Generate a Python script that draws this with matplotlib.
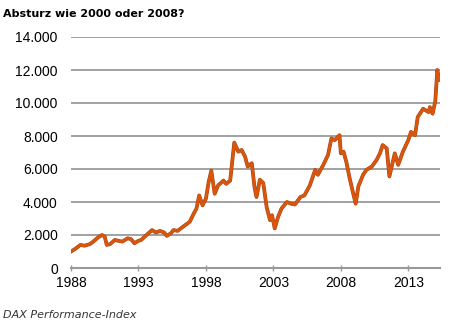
import matplotlib
matplotlib.use("Agg")
import matplotlib.pyplot as plt
import matplotlib.patheffects as pe
from matplotlib.ticker import FuncFormatter

# DAX Performance-Index (decimal year, index points)
years = [1988.0, 1988.3, 1988.7, 1989.0, 1989.4, 1989.65, 1990.0, 1990.3, 1990.5, 1990.65,
         1990.9, 1991.25, 1991.5, 1991.8, 1992.2, 1992.45, 1992.7, 1993.0, 1993.2, 1993.6,
         1994.0, 1994.3, 1994.6, 1994.9, 1995.1, 1995.4, 1995.6, 1995.9, 1996.3, 1996.8,
         1997.1, 1997.3, 1997.5, 1997.75, 1998.0, 1998.2, 1998.4, 1998.65, 1998.9, 1999.3,
         1999.5, 1999.8, 2000.1, 2000.4, 2000.65, 2000.9, 2001.1, 2001.4, 2001.6, 2001.75,
         2002.0, 2002.25, 2002.5, 2002.75, 2002.9, 2003.1, 2003.35, 2003.6, 2004.0, 2004.3,
         2004.6, 2005.0, 2005.3, 2005.7, 2006.1, 2006.3, 2006.7, 2007.05, 2007.3, 2007.55,
         2007.9, 2008.0, 2008.2, 2008.4, 2008.65, 2008.85, 2009.1, 2009.3, 2009.65, 2009.9,
         2010.3, 2010.65, 2010.9, 2011.1, 2011.4, 2011.6, 2012.0, 2012.25, 2012.6, 2013.0,
         2013.2, 2013.5, 2013.7, 2014.1, 2014.5, 2014.6, 2014.8, 2015.0, 2015.15, 2015.3]
dax = [1000, 1150, 1400, 1350, 1450, 1600, 1850, 2000, 1900, 1400,
       1450, 1700, 1650, 1600, 1800, 1750, 1500, 1650, 1700, 2000,
       2300, 2150, 2250, 2150, 1950, 2100, 2300, 2250, 2500, 2800,
       3300, 3600, 4400, 3800, 4200, 5200, 5900, 4500, 5000, 5300,
       5100, 5300, 7600, 7050, 7150, 6750, 6150, 6350, 4900, 4300,
       5350, 5150, 3700, 2900, 3200, 2400, 3100, 3600, 4000, 3900,
       3850, 4300, 4400, 5000, 5950, 5650, 6250, 6850, 7850, 7750,
       8050, 6950, 7050, 6450, 5450, 4750, 3900, 4950, 5650, 5950,
       6150, 6550, 6950, 7450, 7250, 5550, 6950, 6250, 7050, 7750,
       8250, 8050, 9150, 9650, 9450, 9750, 9350, 10100, 12000, 11400]

xticks = [1988, 1993, 1998, 2003, 2008, 2013]
yticks = [0, 2000, 4000, 6000, 8000, 10000, 12000, 14000]

grid_grey = "#9a9a9a"

fig = plt.figure(figsize=(4.71, 3.29), dpi=100)
ax = fig.add_axes([71 / 471, 1 - 268 / 329, (440 - 71) / 471, (268 - 37) / 329])

ax.plot(years, dax, color="#d9560f", lw=2.0, solid_joinstyle="round",
        path_effects=[pe.Stroke(linewidth=2.7, foreground="#a8420c"), pe.Normal()])

ax.set_xlim(1988, 2015.35)
ax.set_ylim(0, 14000)
ax.set_xticks(xticks)
ax.set_yticks(yticks)
ax.yaxis.set_major_formatter(FuncFormatter(lambda v, p: f"{v:,.0f}".replace(",", ".")))

ax.grid(axis="y", color=grid_grey, lw=1.3)
ax.set_axisbelow(True)
for s in ["top", "right", "left"]:
    ax.spines[s].set_visible(False)
ax.spines["bottom"].set_color(grid_grey)
ax.spines["bottom"].set_linewidth(1.5)

ax.tick_params(axis="y", length=0, pad=9.5, labelsize=10)
ax.tick_params(axis="x", direction="inout", length=5, width=1, color=grid_grey,
               pad=3, labelsize=10)
for lab in ax.get_xticklabels() + ax.get_yticklabels():
    lab.set_fontfamily("Liberation Sans")

fig.text(3 / 471, 1 - 14 / 329, "Absturz wie 2000 oder 2008?", fontsize=8,
         fontweight="bold", family="DejaVu Sans", va="center", ha="left")
fig.text(3 / 471, 1 - 315 / 329, "DAX Performance-Index", fontsize=8,
         style="italic", family="DejaVu Sans", color="#333333", va="center", ha="left")

fig.savefig("out.png", dpi=100)
